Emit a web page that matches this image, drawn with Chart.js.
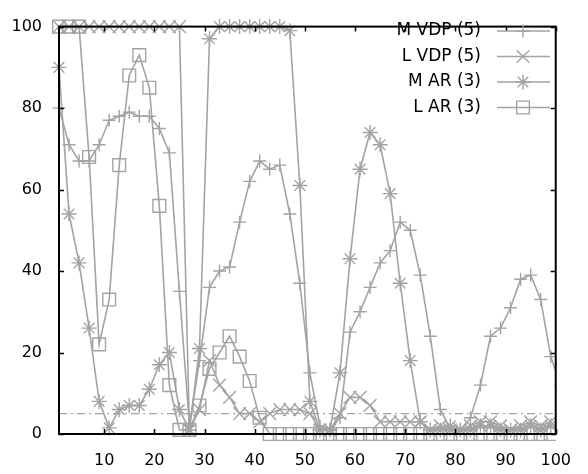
<!DOCTYPE html>
<html>
<head>
<meta charset="utf-8">
<script src="https://cdn.jsdelivr.net/npm/chart.js@4.4.1/dist/chart.umd.min.js"></script>
<style>
  html, body { margin: 0; padding: 0; background: #fff; }
  canvas { display: block; }
</style>
</head>
<body>
<canvas id="chart" width="588" height="474"></canvas>
<script>
// sample positions (every second step)
const xs = [1, 3, 5, 7, 9, 11, 13, 15, 17, 19, 21, 23, 25, 27, 29, 31, 33, 35, 37, 39,
            41, 43, 45, 47, 49, 51, 53, 55, 57, 59, 61, 63, 65, 67, 69, 71, 73, 75, 77, 79,
            81, 83, 85, 87, 89, 91, 93, 95, 97, 99];
// M VDP runs one step past the right edge, the line gets clipped there
const xsLong = [...xs, 101];

const mVdp = [80, 71, 67, 67, 71, 77, 78, 79, 78, 78, 75, 69, 35, 2, 18, 36, 40, 41, 52, 62,
              67, 65, 66, 54, 37, 15, 2, 1, 4, 25, 30, 36, 42, 45, 52, 50, 39, 24, 6, 1,
              1, 4, 12, 24, 26, 31, 38, 39, 33, 19, 12];
const lVdp = [100, 100, 100, 100, 100, 100, 100, 100, 100, 100, 100, 100, 100, 1, 6, 18, 12, 9, 5, 5,
              3, 5, 6, 6, 6, 5, 1, 1, 5, 9, 9, 7, 3, 3, 3, 3, 3, 1, 2, 1,
              1, 2, 3, 3, 2, 1, 2, 3, 2, 3];
const mAr = [90, 54, 42, 26, 8, 1.5, 6, 7, 7, 11, 17, 20, 6, 1, 21, 97, 100, 100, 100, 100,
             100, 100, 100, 99, 61, 8, 1, 1, 15, 43, 65, 74, 71, 59, 37, 18, 3, 1, 1, 2,
             1, 1, 2, 2, 1, 1, 1, 2, 1, 2];
const lAr = [100, 100, 100, 68, 22, 33, 66, 88, 93, 85, 56, 12, 1, 1, 7, 16, 20, 24, 19, 13,
             4, 0, 0, 0, 0, 0, 0, 0, 0, 0, 0, 0, 0, 0, 0, 0, 0, 0, 0, 0,
             0, 0, 0, 0, 0, 0, 0, 0, 0, 0];

const labels = ['M VDP (5)', 'L VDP (5)', 'M AR (3)', 'L AR (3)'];
const xTicks = [10, 20, 30, 40, 50, 60, 70, 80, 90, 100];
const yTicks = [0, 20, 40, 60, 80, 100];
const threshold = 5;

const grey = '#a3a3a3';
const font = "'DejaVu Sans', sans-serif";

const styles = [
  { pointStyle: 'cross', radius: 6.5 },
  { pointStyle: 'crossRot', radius: 9 },
  { pointStyle: 'star', radius: 7.5 },
  { pointStyle: 'rect', radius: 9 },
];

function toPoints(xv, yv) {
  return yv.map((v, i) => ({ x: xv[i], y: v }));
}

function seriesSet(i, points) {
  return {
    label: labels[i],
    data: points,
    showLine: true,
    borderColor: grey,
    borderWidth: 1.6,
    pointStyle: styles[i].pointStyle,
    pointRadius: styles[i].radius,
    pointBorderColor: grey,
    pointBackgroundColor: 'rgba(0,0,0,0)',
    pointBorderWidth: 1.4,
    clip: { left: 12, top: 12, right: 0, bottom: 12 },
  };
}

// border with inward tick marks on all four sides
const framePlugin = {
  id: 'frame',
  afterDatasetsDraw(chart) {
    const { ctx, chartArea: a, scales } = chart;
    ctx.save();
    ctx.strokeStyle = '#000';
    ctx.lineWidth = 2;
    ctx.strokeRect(a.left, a.top, a.right - a.left, a.bottom - a.top);
    ctx.lineWidth = 1.5;
    ctx.beginPath();
    xTicks.forEach((v) => {
      const px = Math.round(scales.x.getPixelForValue(v)) + 0.5;
      ctx.moveTo(px, a.bottom); ctx.lineTo(px, a.bottom - 5);
      ctx.moveTo(px, a.top); ctx.lineTo(px, a.top + 5);
    });
    yTicks.forEach((v) => {
      const py = Math.round(scales.y.getPixelForValue(v)) + 0.5;
      ctx.moveTo(a.left, py); ctx.lineTo(a.left + 5, py);
      ctx.moveTo(a.right, py); ctx.lineTo(a.right - 5, py);
    });
    ctx.stroke();
    ctx.restore();
  },
};

// key in the top right: text first, then line sample with marker
const keyPlugin = {
  id: 'key',
  afterDraw(chart) {
    const ctx = chart.ctx;
    ctx.save();
    ctx.font = '17px ' + font;
    ctx.textAlign = 'right';
    ctx.textBaseline = 'middle';
    labels.forEach((text, i) => {
      const y = 31 + i * 25.5;
      ctx.fillStyle = '#000';
      ctx.fillText(text, 481, y);
      ctx.strokeStyle = grey;
      ctx.lineWidth = 1.6;
      ctx.beginPath();
      ctx.moveTo(497, y);
      ctx.lineTo(550, y);
      ctx.stroke();
      ctx.fillStyle = 'rgba(0,0,0,0)';
      ctx.lineWidth = 1.4;
      Chart.helpers.drawPoint(ctx, {
        pointStyle: styles[i].pointStyle,
        radius: styles[i].radius,
        rotation: 0,
        borderWidth: 1.4,
      }, 523, y);
    });
    ctx.restore();
  },
};

new Chart(document.getElementById('chart'), {
  type: 'scatter',
  data: {
    datasets: [
      seriesSet(0, toPoints(xsLong, mVdp)),
      seriesSet(1, toPoints(xs, lVdp)),
      seriesSet(2, toPoints(xs, mAr)),
      seriesSet(3, toPoints(xs, lAr)),
      {
        label: 'threshold',
        data: [{ x: 1, y: threshold }, { x: 100, y: threshold }],
        showLine: true,
        borderColor: grey,
        borderWidth: 1.4,
        borderDash: [8, 4, 2, 4],
        pointRadius: 0,
      },
    ],
  },
  options: {
    responsive: false,
    animation: false,
    layout: { padding: { left: 0, right: 15, top: 14, bottom: 0 } },
    plugins: {
      legend: { display: false },
      tooltip: { enabled: false },
    },
    scales: {
      x: {
        type: 'linear',
        min: 1,
        max: 100,
        afterBuildTicks: (axis) => { axis.ticks = xTicks.map((v) => ({ value: v })); },
        afterFit: (axis) => { axis.height = 40; },
        grid: { display: false, drawTicks: false },
        border: { display: false },
        ticks: { color: '#000', padding: 17, maxRotation: 0, font: { family: font, size: 16 } },
      },
      y: {
        min: 0,
        max: 100,
        afterBuildTicks: (axis) => { axis.ticks = yTicks.map((v) => ({ value: v })); },
        afterFit: (axis) => { axis.width = 59; },
        grid: { display: false, drawTicks: false },
        border: { display: false },
        ticks: { color: '#000', padding: 17, font: { family: font, size: 16 } },
      },
    },
  },
  plugins: [framePlugin, keyPlugin],
});
</script>
</body>
</html>
